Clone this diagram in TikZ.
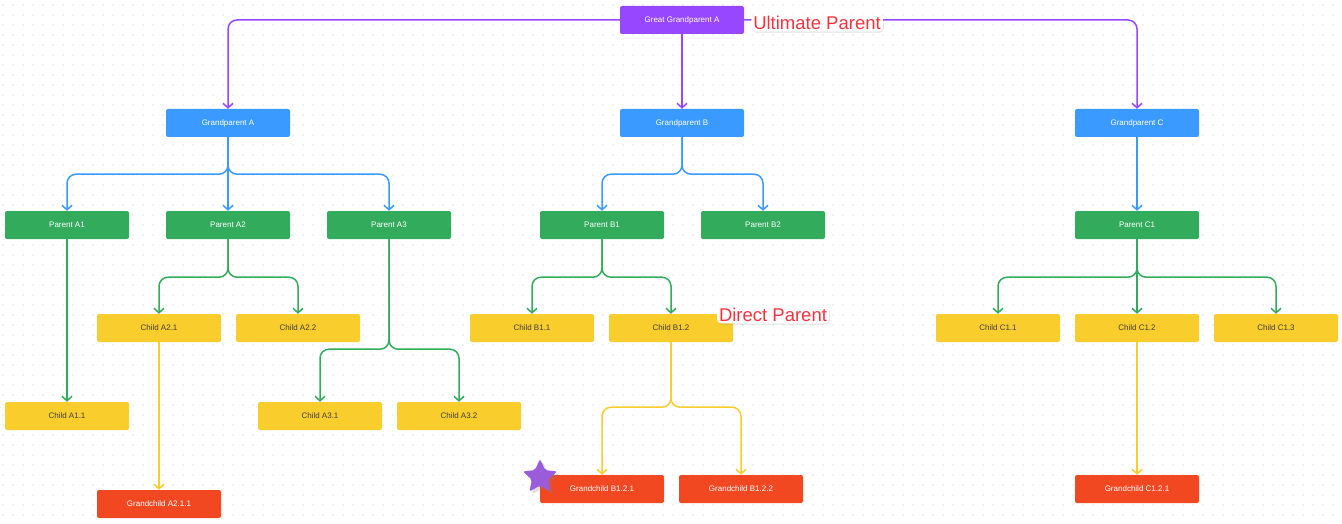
\documentclass[tikz,border=0pt]{standalone}
\usepackage{fontspec}
\setmainfont{Liberation Sans}
\usepackage{tikz}
\usetikzlibrary{arrows.meta, shapes.geometric, shadows}
\definecolor{purc}{HTML}{9747FF}
\definecolor{bluc}{HTML}{3A9AFF}
\definecolor{grnc}{HTML}{33AB5C}
\definecolor{ylwc}{HTML}{F8CD2C}
\definecolor{redc}{HTML}{F24822}
\definecolor{lblc}{HTML}{F5333F}
\definecolor{starc}{HTML}{9A5CDB}

\tikzset{
  box/.style={rectangle, rounded corners=2pt, minimum width=124pt,
              minimum height=28pt, inner sep=0pt,
              font=\fontsize{8}{9}\selectfont},
  ggbox/.style={box, fill=purc, text=white},
  gpbox/.style={box, fill=bluc, text=white},
  pbox/.style={box, fill=grnc, text=white},
  cbox/.style={box, fill=ylwc, text=black!75},
  gcbox/.style={box, fill=redc, text=white},
  link/.style={-{Straight Barb[length=4.5pt, width=10pt]}, line width=1.5pt,
               rounded corners=9pt},
  lbl/.style={font=\fontsize{18.5}{20}\selectfont, text=lblc, fill=white,
              rounded corners=4pt, inner xsep=2pt, inner ysep=1.5pt},
}

\begin{document}
\begin{tikzpicture}[x=1pt, y=-1pt]
  \useasboundingbox (0,0) rectangle (1342,524);
  % dotted canvas
  \foreach \y in {5,15,...,520}
    \draw[black!22, line width=1.1pt, line cap=round,
          dash pattern=on 0pt off 10pt] (3,\y) -- (1342,\y);

  % great grandparent
  \node[ggbox] (gga) at (682,20) {Great Grandparent A};
  % grandparents
  \node[gpbox] (gpa) at (228,123) {Grandparent A};
  \node[gpbox] (gpb) at (682,123) {Grandparent B};
  \node[gpbox] (gpc) at (1137,123) {Grandparent C};
  % parents
  \node[pbox] (pa1) at (67,225) {Parent A1};
  \node[pbox] (pa2) at (228,225) {Parent A2};
  \node[pbox] (pa3) at (389,225) {Parent A3};
  \node[pbox] (pb1) at (602,225) {Parent B1};
  \node[pbox] (pb2) at (763,225) {Parent B2};
  \node[pbox] (pc1) at (1137,225) {Parent C1};
  % children
  \node[cbox] (ca21) at (159,328) {Child A2.1};
  \node[cbox] (ca22) at (298,328) {Child A2.2};
  \node[cbox] (cb11) at (532,328) {Child B1.1};
  \node[cbox] (cb12) at (671,328) {Child B1.2};
  \node[cbox] (cc11) at (998,328) {Child C1.1};
  \node[cbox] (cc12) at (1137,328) {Child C1.2};
  \node[cbox] (cc13) at (1276,328) {Child C1.3};
  \node[cbox] (ca11) at (67,416) {Child A1.1};
  \node[cbox] (ca31) at (320,416) {Child A3.1};
  \node[cbox] (ca32) at (459,416) {Child A3.2};
  % grandchildren
  \node[gcbox] (ga211) at (159,504) {Grandchild A2.1.1};
  \node[gcbox] (gb121) at (602,489) {Grandchild B1.2.1};
  \node[gcbox] (gb122) at (741,489) {Grandchild B1.2.2};
  \node[gcbox] (gc121) at (1137,489) {Grandchild C1.2.1};

  % links
  \draw[link, purc] (gga.west) -| (gpa.north);
  \draw[link, purc] (gga.east) -| (gpc.north);
  \draw[link, purc] (gga.south) -- (gpb.north);

  \foreach \c in {pa1,pa3}
    \draw[link, bluc] (gpa.south) -- ++(0,37) -| (\c.north);
  \draw[link, bluc] (gpa.south) -- (pa2.north);
  \foreach \c in {pb1,pb2}
    \draw[link, bluc] (gpb.south) -- ++(0,37) -| (\c.north);
  \draw[link, bluc] (gpc.south) -- (pc1.north);

  \draw[link, grnc] (pa1.south) -- (ca11.north);
  \foreach \c in {ca21,ca22}
    \draw[link, grnc] (pa2.south) -- ++(0,38) -| (\c.north);
  \foreach \c in {ca31,ca32}
    \draw[link, grnc] (pa3.south) -- ++(0,110) -| (\c.north);
  \foreach \c in {cb11,cb12}
    \draw[link, grnc] (pb1.south) -- ++(0,38) -| (\c.north);
  \foreach \c in {cc11,cc13}
    \draw[link, grnc] (pc1.south) -- ++(0,38) -| (\c.north);
  \draw[link, grnc] (pc1.south) -- (cc12.north);

  \draw[link, ylwc] (ca21.south) -- (ga211.north);
  \foreach \c in {gb121,gb122}
    \draw[link, ylwc] (cb12.south) -- ++(0,65) -| (\c.north);
  \draw[link, ylwc] (cc12.south) -- (gc121.north);

  % marker and notes
  \node[star, star points=5, star point ratio=2.1, fill=starc,
        rounded corners=2pt, minimum size=36pt, inner sep=0pt,
        drop shadow={opacity=0.25}] (fav) at (540,477) {};
  \node[lbl, drop shadow={opacity=0.15, shadow xshift=1pt,
        shadow yshift=-1.5pt}] (ult) at (817,23) {Ultimate Parent};
  \node[lbl, drop shadow={opacity=0.15, shadow xshift=1pt,
        shadow yshift=-1.5pt}] (dir) at (773,315) {Direct Parent};
\end{tikzpicture}
\end{document}
